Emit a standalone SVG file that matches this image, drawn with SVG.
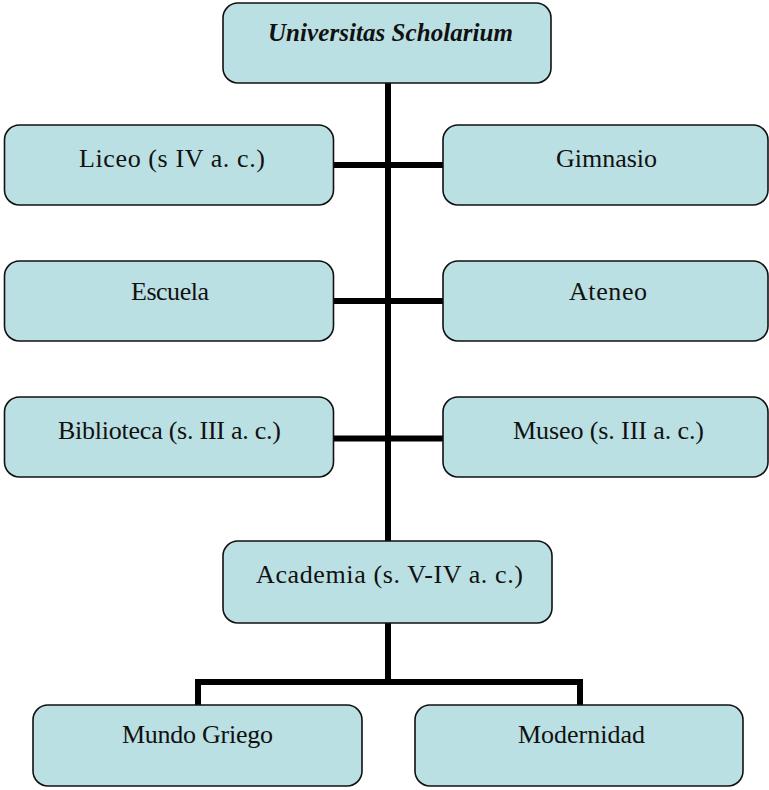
<svg xmlns="http://www.w3.org/2000/svg" width="769" height="790" viewBox="0 0 769 790">
  <style>
    .box { fill: #bbe0e3; stroke: #111; stroke-width: 1.6; }
    .lbl { font-family: "Liberation Serif", "Times New Roman", serif; font-size: 26px; fill: #111; text-anchor: middle; }
    .title { font-weight: bold; font-style: italic; font-size: 25px; }
    .wire { stroke: #000; stroke-width: 6; fill: none; stroke-linecap: butt; stroke-linejoin: miter; }
  </style>

  <!-- connectors -->
  <g id="connectors">
    <!-- main trunk from the title down to Academia -->
    <line class="wire" x1="388" y1="82" x2="388" y2="541"/>
    <!-- side branches -->
    <line class="wire" x1="333" y1="165" x2="443" y2="165"/>
    <line class="wire" x1="333" y1="301" x2="443" y2="301"/>
    <line class="wire" x1="333" y1="438.5" x2="443" y2="438.5"/>
    <!-- Academia to the two lower boxes -->
    <path class="wire" d="M388 623 V682 M198 705 V682 H580 V705"/>
  </g>

  <g id="node-universitas">
    <rect class="box" x="223" y="3" width="328" height="80" rx="15"/>
    <text class="lbl title" x="390.5" y="41" textLength="245">Universitas Scholarium</text>
  </g>

  <g id="node-liceo">
    <rect class="box" x="4.5" y="125" width="329" height="80" rx="15"/>
    <text class="lbl" x="172" y="167" textLength="186">Liceo (s IV a. c.)</text>
  </g>

  <g id="node-gimnasio">
    <rect class="box" x="443" y="125" width="325" height="80" rx="15"/>
    <text class="lbl" x="606.5" y="167" textLength="101">Gimnasio</text>
  </g>

  <g id="node-escuela">
    <rect class="box" x="4.5" y="261" width="329" height="80" rx="15"/>
    <text class="lbl" x="170" y="300" textLength="78">Escuela</text>
  </g>

  <g id="node-ateneo">
    <rect class="box" x="443" y="261" width="325" height="80" rx="15"/>
    <text class="lbl" x="608" y="300" textLength="78">Ateneo</text>
  </g>

  <g id="node-biblioteca">
    <rect class="box" x="4.5" y="397" width="329" height="80" rx="15"/>
    <text class="lbl" x="169.5" y="439" textLength="223">Biblioteca (s. III a. c.)</text>
  </g>

  <g id="node-museo">
    <rect class="box" x="443" y="397" width="325" height="80" rx="15"/>
    <text class="lbl" x="608.5" y="439" textLength="191">Museo (s. III a. c.)</text>
  </g>

  <g id="node-academia">
    <rect class="box" x="223" y="541" width="329" height="82" rx="15"/>
    <text class="lbl" x="389.5" y="583" textLength="267">Academia (s. V-IV a. c.)</text>
  </g>

  <g id="node-mundo-griego">
    <rect class="box" x="33" y="705" width="329" height="81" rx="15"/>
    <text class="lbl" x="197.5" y="743" textLength="151">Mundo Griego</text>
  </g>

  <g id="node-modernidad">
    <rect class="box" x="415" y="705" width="328" height="81" rx="15"/>
    <text class="lbl" x="581.5" y="743" textLength="127">Modernidad</text>
  </g>
</svg>
